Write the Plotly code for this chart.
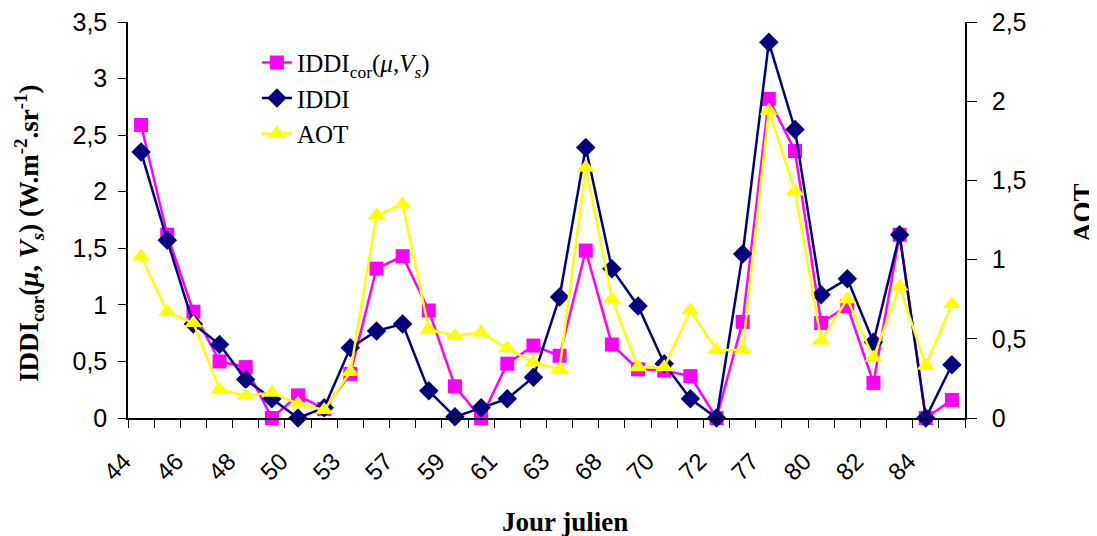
import plotly.graph_objects as go

days = ["44", "45", "46", "47", "48", "49", "50", "52", "53", "55", "57", "58", "59", "60", "61", "62",
        "63", "65", "68", "69", "70", "71", "72", "75", "77", "79", "80", "81", "82", "83", "84", "85"]
iddi_cor = [2.59, 1.62, 0.94, 0.50, 0.45, 0.00, 0.20, 0.08, 0.39, 1.32, 1.43, 0.95, 0.28, 0.00, 0.48, 0.64,
            0.55, 1.48, 0.65, 0.43, 0.42, 0.37, 0.00, 0.85, 2.82, 2.36, 0.84, 0.99, 0.31, 1.62, 0.00, 0.16]
iddi = [2.35, 1.57, 0.83, 0.65, 0.34, 0.17, 0.00, 0.09, 0.62, 0.77, 0.83, 0.24, 0.01, 0.09, 0.17, 0.36,
        1.07, 2.39, 1.32, 0.99, 0.48, 0.17, 0.00, 1.45, 3.32, 2.55, 1.09, 1.23, 0.67, 1.62, 0.00, 0.47]
aot = [1.02, 0.67, 0.60, 0.18, 0.14, 0.16, 0.09, 0.05, 0.29, 1.28, 1.35, 0.56, 0.52, 0.54, 0.44, 0.35,
       0.31, 1.58, 0.75, 0.32, 0.32, 0.68, 0.43, 0.43, 1.94, 1.43, 0.49, 0.75, 0.38, 0.83, 0.33, 0.72]
y_left_ticks = [0, 0.5, 1, 1.5, 2, 2.5, 3, 3.5]
y_right_ticks = [0, 0.5, 1, 1.5, 2, 2.5]

def fr(v):
    return ("%g" % v).replace(".", ",")

xi = list(range(len(days)))
serif = "Liberation Serif"
sans = "Liberation Sans"

# page body has an 8px margin: the figure is sized/placed to compensate
fig = go.Figure()
fig.add_trace(go.Scatter(
    x=xi, y=iddi_cor, mode="lines+markers", cliponaxis=False,
    name="IDDI<sub>cor</sub>(<i>μ</i>,<i>V<sub>s</sub></i>)",
    line=dict(color="#FF00FF", width=2.5),
    marker=dict(symbol="square", size=14, color="#FF00FF")))
fig.add_trace(go.Scatter(
    x=xi, y=iddi, mode="lines+markers", cliponaxis=False, name="IDDI",
    line=dict(color="#000080", width=2.5),
    marker=dict(symbol="diamond", size=15, color="#000080")))
fig.add_trace(go.Scatter(
    x=xi, y=aot, mode="lines+markers", cliponaxis=False, name="AOT", yaxis="y2",
    line=dict(color="#FFFF00", width=2.5),
    marker=dict(symbol="triangle-up", size=16, color="#FFFF00")))

title_font = dict(family=serif, size=27, color="black")
fig.update_layout(
    width=1089, height=528,
    margin=dict(l=120, r=132, t=14, b=118, autoexpand=False),
    paper_bgcolor="white", plot_bgcolor="white",
    showlegend=True,
    legend=dict(x=0.154, y=0.955, xanchor="left", yanchor="top",
                font=dict(family=serif, size=25, color="black"),
                bgcolor="rgba(0,0,0,0)", tracegroupgap=0),
    xaxis=dict(
        range=[-0.5, len(days) - 0.5], automargin=False,
        tickmode="array", tickvals=xi[::2], ticktext=days[::2],
        ticks="", tickangle=-45, ticklabelshift=-17, ticklabelstandoff=18,
        ticklabeloverflow="allow",
        tickfont=dict(family=sans, size=24, color="black"),
        showline=True, linecolor="black", linewidth=1.5,
        showgrid=False, zeroline=False,
        minor=dict(tickmode="linear", tick0=-0.5, dtick=1, ticks="outside",
                   ticklen=8, tickcolor="black", tickwidth=1, showgrid=False),
    ),
    yaxis=dict(
        range=[0, 3.5], automargin=False, tickmode="array", tickvals=y_left_ticks,
        ticktext=[fr(v) for v in y_left_ticks],
        ticks="outside", ticklen=8, tickcolor="black", ticklabelstandoff=6,
        ticklabeloverflow="allow",
        tickfont=dict(family=sans, size=25, color="black"),
        showline=True, linecolor="black", linewidth=1.5,
        showgrid=False, zeroline=False,
    ),
    yaxis2=dict(
        overlaying="y", side="right", automargin=False,
        range=[0, 2.5], tickmode="array", tickvals=y_right_ticks,
        ticktext=[fr(v) for v in y_right_ticks],
        ticks="outside", ticklen=10, tickcolor="black", ticklabelstandoff=10,
        ticklabeloverflow="allow",
        tickfont=dict(family=sans, size=25, color="black"),
        showline=True, linecolor="black", linewidth=1.5,
        showgrid=False, zeroline=False,
    ),
    annotations=[
        dict(text="<b>IDDI<sub>cor</sub>(<i>μ</i>, <i>V<sub>s</sub></i>) (W.m<sup>-2</sup>.sr<sup>-1</sup>)</b>",
             xref="paper", yref="paper", x=(29 - 128) / 837, y=(418 - 234) / 396,
             xanchor="center", yanchor="middle", textangle=-90, showarrow=False, font=title_font),
        dict(text="<b>AOT</b>", xref="paper", yref="paper",
             x=(1083 - 128) / 837, y=(418 - 213) / 396,
             xanchor="center", yanchor="middle", textangle=-90, showarrow=False, font=title_font),
        dict(text="<b>Jour julien</b>", xref="paper", yref="paper",
             x=(565 - 128) / 837, y=(418 - 522) / 396,
             xanchor="center", yanchor="middle", showarrow=False, font=title_font),
    ],
)

fig.write_html("out.html")
